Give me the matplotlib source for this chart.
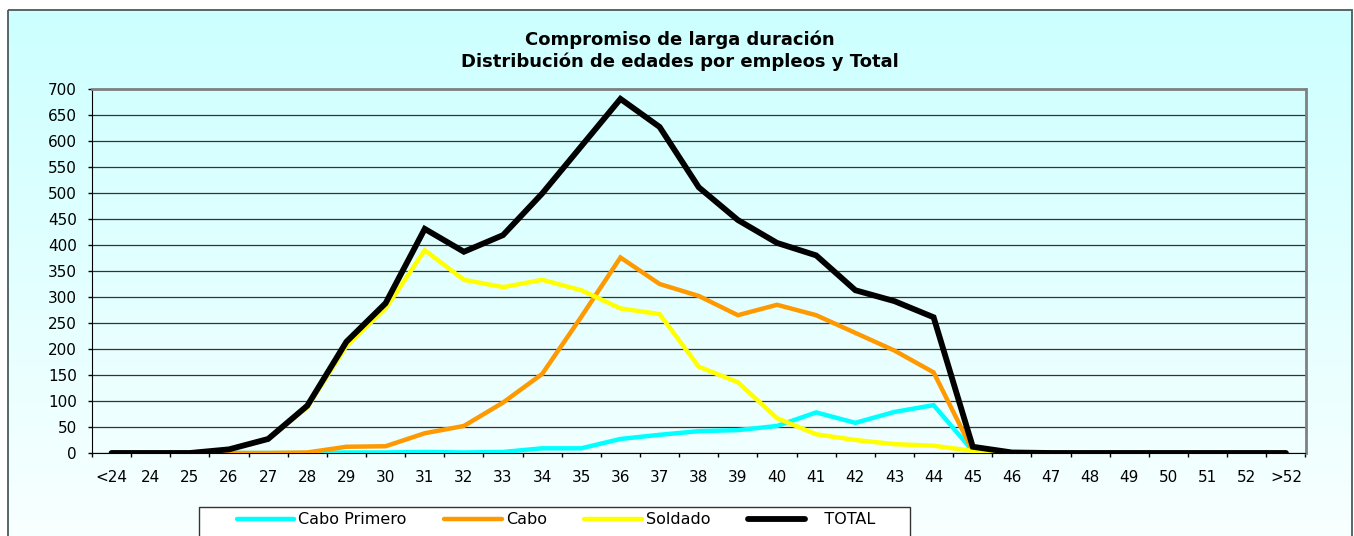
import numpy as np
import matplotlib
matplotlib.use("Agg")
import matplotlib.pyplot as plt
from matplotlib.patches import Rectangle
from matplotlib.lines import Line2D

plt.rcParams['font.family'] = ['DejaVu Sans']

# edades (tramos) y efectivos por empleo
edades = ['<24', '24', '25', '26', '27', '28', '29', '30', '31', '32', '33', '34',
          '35', '36', '37', '38', '39', '40', '41', '42', '43', '44', '45', '46',
          '47', '48', '49', '50', '51', '52', '>52']
cabo_primero = [0, 0, 0, 0, 0, 0, 1, 1, 2, 1, 2, 9, 9, 27, 35, 42, 44, 52, 78, 58,
                79, 92, 4, 0, 0, 0, 0, 0, 0, 0, 0]
cabo = [0, 0, 0, 0, 0, 1, 12, 13, 38, 52, 97, 152, 262, 376, 325, 302, 265, 285,
        265, 231, 197, 155, 4, 0, 0, 0, 0, 0, 0, 0, 0]
soldado = [0, 0, 0, 7, 27, 88, 206, 278, 390, 333, 319, 333, 313, 278, 267, 166,
           136, 67, 36, 25, 17, 14, 4, 0, 0, 0, 0, 0, 0, 0, 0]
total = [0, 0, 0, 7, 27, 91, 214, 288, 431, 387, 419, 499, 590, 681, 627, 511,
         448, 404, 380, 313, 292, 261, 12, 1, 0, 0, 0, 0, 0, 0, 0]

series = [
    ('Cabo Primero', cabo_primero, '#00FFFF', 3.2),
    ('Cabo', cabo, '#FF9900', 3.2),
    ('Soldado', soldado, '#FFFF00', 3.2),
    ('TOTAL', total, '#000000', 4.2),
]

W, H = 1354, 536
fig = plt.figure(figsize=(W / 100, H / 100), dpi=100)

# fondo del grafico: degradado cian -> blanco con marco
bg = fig.add_axes([0, 0, 1, 1])
bg.set_xlim(0, W)
bg.set_ylim(H, 0)
bg.axis('off')
top = np.array([204, 255, 255]) / 255
bot = np.array([252, 255, 255]) / 255
t = np.linspace(0, 1, 256).reshape(-1, 1, 1)
grad = top * (1 - t) + bot * t
bg.imshow(grad, extent=(8, 1352, 580, 10), origin='upper', aspect='auto')
bg.add_patch(Rectangle((8, 10), 1344, 600, fill=False, edgecolor='#4a5a5a', lw=1.3))
# caja de la leyenda
bg.add_patch(Rectangle((199, 507), 711, 60, facecolor='white', edgecolor='#333333', lw=1.0))

fig.text(0.502, 1 - 40 / H, 'Compromiso de larga duración', ha='center', va='center',
         fontsize=13, fontweight='bold')
fig.text(0.502, 1 - 62 / H, 'Distribución de edades por empleos y Total', ha='center',
         va='center', fontsize=13, fontweight='bold')

ax = fig.add_axes([92 / W, (H - 453) / H, (1305.5 - 92) / W, (453 - 89) / H])
ax.patch.set_alpha(0)

x = np.arange(len(edades))
handles = []
for name, vals, color, lw in series:
    ax.plot(x, vals, color=color, lw=lw, solid_capstyle='round', solid_joinstyle='miter',
            zorder=3)
    handles.append(Line2D([], [], color=color, lw=lw, solid_capstyle='round'))

ax.set_xlim(-0.5, len(edades) - 0.5)
ax.set_ylim(0, 700)
ax.set_yticks(np.arange(0, 701, 50))
ax.set_xticks(x)
ax.set_xticklabels(edades)
ax.set_xticks(np.arange(-0.5, len(edades), 1), minor=True)
ax.tick_params(axis='x', which='major', length=0, pad=12, labelsize=11)
ax.tick_params(axis='x', which='minor', length=3, direction='out', width=1)
ax.tick_params(axis='y', length=3, direction='out', pad=8, labelsize=11, width=1)

ax.yaxis.grid(True, color='#333333', lw=0.9)
ax.set_axisbelow(True)
ax.spines['left'].set_color('black')
ax.spines['bottom'].set_color('black')
ax.spines['top'].set_color('#808080')
ax.spines['top'].set_linewidth(2)
ax.spines['right'].set_color('#808080')
ax.spines['right'].set_linewidth(2)

ax.legend(handles, [s[0] for s in series[:3]] + ['   TOTAL'], ncol=4, frameon=False,
          loc='center left', bbox_to_anchor=(229 / W, 1 - 520 / H),
          bbox_transform=fig.transFigure, borderpad=0, handlelength=3.6,
          handletextpad=0.25, columnspacing=2.35, fontsize=11.5)

fig.savefig('out.png', dpi=100)
